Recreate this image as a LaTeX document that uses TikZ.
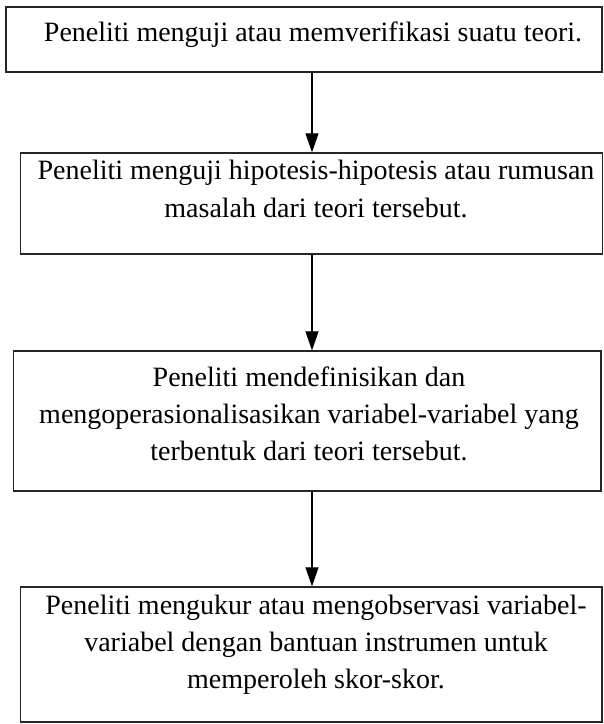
\documentclass[tikz,border=0pt]{standalone}
\usepackage{fontspec}
\setmainfont{Liberation Serif}
\usetikzlibrary{arrows.meta}
\begin{document}
\begin{tikzpicture}[x=1pt,y=-1pt,
  flowbox/.style={draw=black!85,line width=1.3pt,rectangle,inner sep=0pt},
  flowtext/.style={anchor=base,inner sep=0pt,font=\fontsize{28}{36}\selectfont},
  flowarrow/.style={draw=black,line width=1.2pt,-{Triangle[width=13pt,length=19pt]}}]
\useasboundingbox[fill=white] (0,0) rectangle (604,724);
\clip (0,0) rectangle (604,724);
% boxes
\node[flowbox,minimum width=596pt,minimum height=65pt] (b1) at (304,39.5) {};
\node[flowbox,minimum width=582pt,minimum height=101pt] (b2) at (311.5,203.5) {};
\node[flowbox,minimum width=587.5pt,minimum height=140pt] (b3) at (307.25,421) {};
\node[flowbox,minimum width=581.5pt,minimum height=135pt] (b4) at (311.25,654.5) {};
% texts
\node[flowtext] (t1a) at (313,41) {Peneliti menguji atau memverifikasi suatu teori.};
\node[flowtext] (t2a) at (316,179) {Peneliti menguji hipotesis-hipotesis atau rumusan};
\node[flowtext] (t2b) at (316,217) {masalah dari teori tersebut.};
\node[flowtext] (t3a) at (309,386) {Peneliti mendefinisikan dan};
\node[flowtext] (t3b) at (309,423) {mengoperasionalisasikan variabel-variabel yang};
\node[flowtext] (t3c) at (309,460) {terbentuk dari teori tersebut.};
\node[flowtext] (t4a) at (316,614) {Peneliti mengukur atau mengobservasi variabel-};
\node[flowtext] (t4b) at (316,651) {variabel dengan bantuan instrumen untuk};
\node[flowtext] (t4c) at (316,688) {memperoleh skor-skor.};
% arrows
\coordinate (ax) at (312,0);
\draw[flowarrow] (b1.south -| ax) -- (b2.north -| ax);
\draw[flowarrow] (b2.south -| ax) -- (b3.north -| ax);
\draw[flowarrow] (b3.south -| ax) -- (b4.north -| ax);
\end{tikzpicture}
\end{document}
